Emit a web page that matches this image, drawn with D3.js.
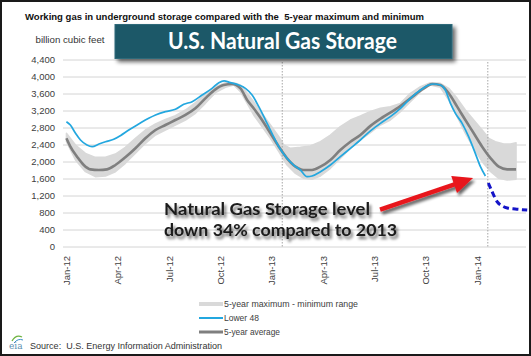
<!DOCTYPE html>
<html><head><meta charset="utf-8">
<script src="https://cdn.jsdelivr.net/npm/d3@7"></script>
<style>
html,body{margin:0;padding:0;background:#fff;}
svg{display:block;font-family:"Liberation Sans",Arial,sans-serif;}
</style></head>
<body>
<svg id="chart" width="531" height="356"></svg>
<script>
// ---- data (month index from Jan-2012, value in billion cubic feet) ----
const lowerM = [0,0.23,0.53,0.82,1.2,1.5,1.9,2.28,2.76,3.15,3.64,4.22,4.8,5.2,5.78,6.36,6.85,7.34,7.92,8.5,8.9,9.2,9.57,10.06,10.45,10.84,11.23,11.62,12.0,12.4,12.88,13.27,13.66,14.05,14.34,14.83,15.41,15.99,16.58,17.16,17.75,18.33,18.91,19.5,20.08,20.67,21.15,21.44,21.83,22.12,22.42,22.71,23.1,23.48,23.87,24.17,24.46];
const lowerV = [2948,2870,2675,2518,2400,2360,2424,2478,2534,2620,2753,2894,3028,3106,3184,3240,3357,3420,3576,3733,3867,3910,3867,3812,3733,3576,3302,2988,2675,2360,2086,1929,1812,1655,1670,1772,1929,2125,2322,2518,2733,2910,3067,3263,3498,3694,3812,3835,3812,3694,3380,3145,2910,2596,2204,1890,1670];

const avgM = [0,0.23,0.62,1.01,1.4,1.89,2.37,2.86,3.44,4.03,4.61,5.2,5.78,6.36,6.95,7.53,8.11,8.7,9.18,9.67,10.16,10.55,10.93,11.42,11.91,12.4,12.88,13.37,13.85,14.34,14.83,15.41,15.99,16.58,17.16,17.75,18.52,19.3,20.08,20.86,21.35,21.83,22.32,22.81,23.29,23.78,24.27,24.77,25.24,25.73,26.25];
const avgV = [2557,2360,2125,1929,1827,1812,1827,1929,2110,2322,2557,2753,2870,2988,3106,3263,3498,3710,3812,3835,3733,3459,3263,2988,2675,2360,2086,1890,1812,1812,1890,2047,2282,2478,2635,2850,3067,3263,3498,3733,3835,3812,3616,3302,2988,2675,2360,2086,1890,1827,1827];

const maxM = [0,0.53,1.11,1.69,2.28,2.86,3.44,4.03,4.61,5.2,5.78,6.36,6.95,7.53,8.11,8.7,9.28,9.77,10.16,10.55,10.93,11.42,11.91,12.4,12.69,13.08,13.66,14.24,14.83,15.41,15.99,16.58,17.16,17.75,18.33,18.91,19.5,20.08,20.67,21.25,21.83,22.32,22.81,23.29,23.78,24.27,24.66,25.04,25.53,25.92,26.25];
const maxV = [2675,2400,2204,2110,2110,2188,2345,2557,2753,2894,3004,3090,3224,3396,3600,3772,3867,3867,3812,3616,3420,3145,2870,2596,2400,2322,2345,2376,2478,2635,2831,2988,3082,3190,3263,3302,3380,3616,3772,3867,3851,3733,3498,3224,2988,2753,2557,2478,2424,2424,2455];

const minM = [0,0.53,1.11,1.69,2.28,2.86,3.44,4.03,4.61,5.2,5.78,6.36,6.95,7.53,8.11,8.7,9.28,9.77,10.16,10.55,10.93,11.42,11.91,12.4,12.88,13.37,13.85,14.34,14.83,15.41,15.99,16.58,17.16,17.75,18.33,18.91,19.5,20.08,20.67,21.25,21.83,22.32,22.81,23.29,23.78,24.27,24.77,25.24,25.73,26.25];
const minV = [2478,2047,1772,1655,1670,1772,1969,2204,2439,2635,2753,2870,2988,3145,3380,3631,3757,3812,3655,3380,3106,2831,2557,2243,1929,1733,1616,1592,1670,1851,2086,2322,2518,2690,2870,2988,3184,3420,3655,3812,3757,3459,3067,2675,2322,2008,1772,1616,1576,1592];

const projM = [24.46,24.63,24.86,25.16,25.45,25.74,26.2,26.9];
const projV = [1670,1506,1294,1059,965,918,894,870];

const tickM = [0,3,6,9,12,15,18,21,24];
const tickLabels = ["Jan-12","Apr-12","Jul-12","Oct-12","Jan-13","Apr-13","Jul-13","Oct-13","Jan-14"];
const yTicks = [0,400,800,1200,1600,2000,2400,2800,3200,3600,4000,4400];
const yearDividers = [12.6, 24.6];
const arrowFrom = [18.31, 880];
const arrowTo = [23.74, 1624];

const chartTitle = "Working gas in underground storage compared with the\u00a0 5-year maximum and minimum";
const unitLabel = "billion cubic feet";
const bannerText = "U.S. Natural Gas Storage";
const noteLines = ["Natural Gas Storage level", "down 34% compared to 2013"];
const legendItems = ["5-year maximum - minimum range", "Lower 48", "5-year average"];
const sourceText = "Source:\u00a0 U.S. Energy Information Administration";

// ---- drawing ----
const svg = d3.select("#chart");
const x = d3.scaleLinear().domain([-0.2, 26.83]).range([63, 526]);
const y = d3.scaleLinear().domain([0, 4400]).range([247, 60]);

const defs = svg.append("defs");
const sh = defs.append("filter").attr("id","shadow").attr("x","-20%").attr("y","-40%").attr("width","150%").attr("height","200%");
sh.append("feGaussianBlur").attr("in","SourceAlpha").attr("stdDeviation",1.8).attr("result","b");
sh.append("feOffset").attr("in","b").attr("dx",2).attr("dy",2.5).attr("result","o");
sh.append("feComponentTransfer").attr("in","o").attr("result","o2").append("feFuncA").attr("type","linear").attr("slope",0.6);
const m1 = sh.append("feMerge"); m1.append("feMergeNode").attr("in","o2"); m1.append("feMergeNode").attr("in","SourceGraphic");

const bsh = defs.append("filter").attr("id","boxshadow").attr("x","-10%").attr("y","-30%").attr("width","125%").attr("height","170%");
bsh.append("feGaussianBlur").attr("in","SourceAlpha").attr("stdDeviation",2).attr("result","b");
bsh.append("feOffset").attr("in","b").attr("dx",3).attr("dy",3).attr("result","o");
bsh.append("feComponentTransfer").attr("in","o").attr("result","o2").append("feFuncA").attr("type","linear").attr("slope",0.6);
const m2 = bsh.append("feMerge"); m2.append("feMergeNode").attr("in","o2"); m2.append("feMergeNode").attr("in","SourceGraphic");

// gridlines
svg.append("g").selectAll("line").data(yTicks).join("line")
  .attr("x1", x.range()[0]).attr("x2", x.range()[1])
  .attr("y1", d=>y(d)).attr("y2", d=>y(d))
  .attr("stroke", "#d4d4d4").attr("stroke-width", 1);

// y labels
svg.append("g").selectAll("text").data(yTicks).join("text")
  .attr("x", 55).attr("y", d=>y(d)).attr("dy","0.35em")
  .attr("text-anchor","end").attr("font-size", 9.5).attr("fill","#404040")
  .text(d=>d3.format(",")(d));

// x labels
svg.append("g").selectAll("text").data(tickM).join("text")
  .attr("transform", d=>`translate(${x(d)},${y(0)+9}) rotate(-90)`)
  .attr("dy","0.35em").attr("text-anchor","end")
  .attr("font-size", 9.5).attr("fill","#404040")
  .text((d,i)=>tickLabels[i]);

// band
const maxPts = maxM.map((m,i)=>[x(m), y(maxV[i])]);
const minPts = minM.map((m,i)=>[x(m), y(minV[i])]);
svg.append("path").attr("d", d3.line().curve(d3.curveLinear)(
    maxPts.concat(minPts.slice().reverse()))+"Z")
  .attr("fill","#d9d9d9").attr("stroke","#d9d9d9").attr("stroke-width",1.5).attr("stroke-linejoin","round");

// year dividers
svg.append("g").selectAll("line").data(yearDividers).join("line")
  .attr("x1", d=>x(d)).attr("x2", d=>x(d)).attr("y1", y(4400)+2).attr("y2", y(0))
  .attr("stroke","#a6a6a6").attr("stroke-width",1).attr("stroke-dasharray","1.5,1.5");

// average
svg.append("path")
  .attr("d", d3.line().x((m)=>x(m)).y((m,i)=>y(avgV[i])).curve(d3.curveMonotoneX)(avgM))
  .attr("fill","none").attr("stroke","#7f7f7f").attr("stroke-width",2.6).attr("stroke-linejoin","round");

// lower 48
svg.append("path")
  .attr("d", d3.line().x((m)=>x(m)).y((m,i)=>y(lowerV[i])).curve(d3.curveMonotoneX)(lowerM))
  .attr("fill","none").attr("stroke","#23a7df").attr("stroke-width",1.7).attr("stroke-linejoin","round");

// projection dashed
svg.append("path")
  .attr("d", d3.line().x((m)=>x(m)).y((m,i)=>y(projV[i+1])).curve(d3.curveMonotoneX)(projM.slice(1)))
  .attr("fill","none").attr("stroke","#1414c8").attr("stroke-width",3).attr("stroke-dasharray","6,3.5");

// annotation text
const note = svg.append("g").attr("filter","url(#shadow)");
note.selectAll("text").data(noteLines).join("text")
  .attr("x", 164).attr("y", (d,i)=>215 + i*21)
  .attr("font-family","Lato, 'Open Sans', sans-serif").attr("font-weight",700)
  .attr("font-size", 17.5).attr("fill","#1a1a1a")
  .attr("textLength",(d,i)=>[206,233][i]).attr("lengthAdjust","spacingAndGlyphs")
  .text(d=>d);

// red arrow
const ax0 = x(arrowFrom[0]), ay0 = y(arrowFrom[1]), ax1 = x(arrowTo[0]), ay1 = y(arrowTo[1]);
const ang = Math.atan2(ay1-ay0, ax1-ax0);
const headL = 20, headW = 9;
const bx = ax1 - headL*Math.cos(ang), by = ay1 - headL*Math.sin(ang);
const arrowG = svg.append("g").attr("filter","url(#shadow)");
arrowG.append("line").attr("x1",ax0).attr("y1",ay0).attr("x2",bx+2*Math.cos(ang)).attr("y2",by+2*Math.sin(ang))
  .attr("stroke","#e8141b").attr("stroke-width",4.5);
arrowG.append("path").attr("d", `M${ax1},${ay1}L${bx - headW*Math.sin(ang)},${by + headW*Math.cos(ang)}L${bx + headW*Math.sin(ang)},${by - headW*Math.cos(ang)}Z`)
  .attr("fill","#e8141b");

// titles
svg.append("text").attr("x",25).attr("y",19.5).attr("font-size",9.2).attr("font-weight","bold")
  .attr("fill","#111").attr("textLength",399).attr("lengthAdjust","spacingAndGlyphs").text(chartTitle);
svg.append("text").attr("x",35.5).attr("y",43).attr("font-size",8.6)
  .attr("fill","#333").attr("textLength",69).attr("lengthAdjust","spacingAndGlyphs").text(unitLabel);

// banner
const banner = svg.append("g").attr("filter","url(#boxshadow)");
banner.append("rect").attr("x",115).attr("y",24.5).attr("width",337).attr("height",34)
  .attr("fill","#1f5868").attr("stroke","#2f6a7a").attr("stroke-width",1);
svg.append("text").attr("x",168).attr("y",49).attr("font-family","Lato, 'Open Sans', sans-serif")
  .attr("font-weight",700).attr("font-size",22).attr("fill","#ffffff")
  .attr("textLength",229).attr("lengthAdjust","spacingAndGlyphs").text(bannerText);

// legend
const legY = [304, 318, 332];
const lg = svg.append("g");
lg.append("line").attr("x1",199).attr("x2",223).attr("y1",legY[0]).attr("y2",legY[0]).attr("stroke","#d9d9d9").attr("stroke-width",4);
lg.append("line").attr("x1",199).attr("x2",223).attr("y1",legY[1]).attr("y2",legY[1]).attr("stroke","#23a7df").attr("stroke-width",2);
lg.append("line").attr("x1",199).attr("x2",223).attr("y1",legY[2]).attr("y2",legY[2]).attr("stroke","#7f7f7f").attr("stroke-width",3);
lg.selectAll("text").data(legendItems).join("text")
  .attr("x",224).attr("y",(d,i)=>legY[i]).attr("dy","0.35em")
  .attr("font-size",8.6).attr("fill","#404040")
  .attr("textLength",(d,i)=>[134,35,56][i]).attr("lengthAdjust","spacingAndGlyphs")
  .text(d=>d);

// source + logo
svg.append("text").attr("x",30).attr("y",349).attr("font-size",8.6).attr("fill","#333")
  .attr("textLength",192).attr("lengthAdjust","spacingAndGlyphs").text(sourceText);
svg.append("text").attr("x",9).attr("y",349).attr("font-size",9).attr("fill","#5b8fb0")
  .attr("font-family","'DejaVu Serif',serif").text("eia");
svg.append("path").attr("d","M12,341 Q16,334 22,337").attr("fill","none").attr("stroke","#6db33f").attr("stroke-width",1.3);
svg.append("path").attr("d","M14,343 Q18,338 23,340").attr("fill","none").attr("stroke","#3a8fc7").attr("stroke-width",1);

// frame
svg.append("rect").attr("x",1).attr("y",1).attr("width",529).attr("height",354)
  .attr("fill","none").attr("stroke","#1a1a1a").attr("stroke-width",2);
</script>
</body></html>
